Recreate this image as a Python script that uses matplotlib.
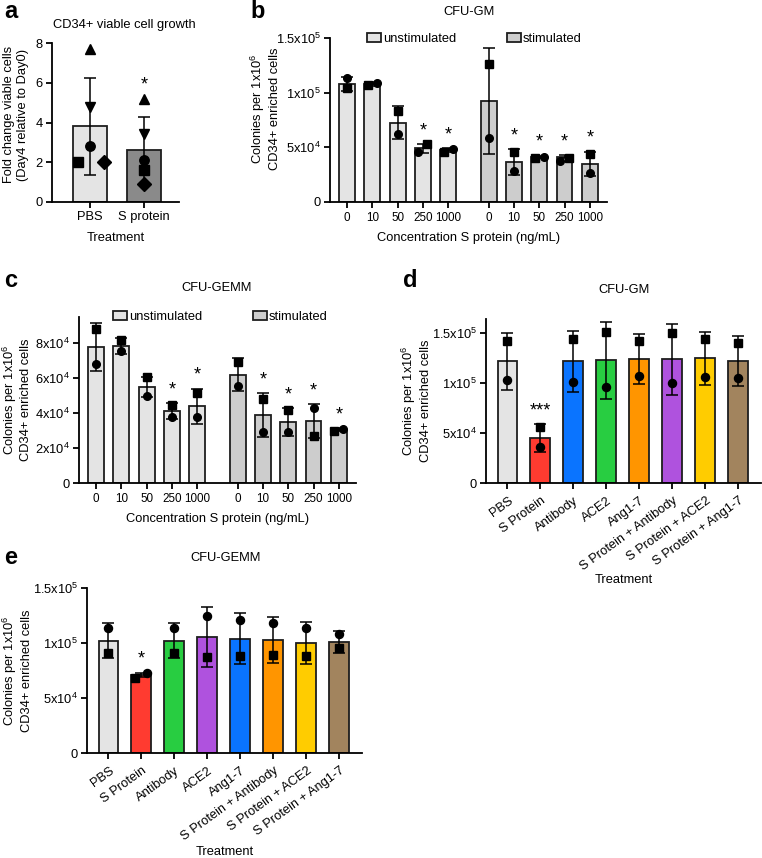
import numpy as np
import matplotlib
matplotlib.use('Agg')
import matplotlib.pyplot as plt
from matplotlib.patches import Patch
from matplotlib.transforms import ScaledTranslation

plt.rcParams['font.family'] = ['Liberation Sans', 'DejaVu Sans']
plt.rcParams['mathtext.fontset'] = 'custom'
plt.rcParams['mathtext.rm'] = 'Liberation Sans'
plt.rcParams['mathtext.default'] = 'regular'
plt.rcParams['font.size'] = 9.3

# ---- panel a: CD34+ viable cell growth
a_groups = ['PBS', 'S protein']
a_mean = [3.8, 2.6]
a_sd = [2.45, 1.7]
a_markers = ['^', 'v', 'o', 's', 'D']
a_points = [[7.7, 4.8, 2.8, 2.0, 2.0],
            [5.2, 3.4, 2.1, 1.6, 0.9]]
a_sig = ['', '*']

# ---- panel b: CFU-GM, concentration series
conc = ['0', '10', '50', '250', '1000']
b_un_mean = [1.08e5, 1.08e5, 7.25e4, 4.9e4, 4.75e4]
b_un_sd = [6.4e3, 1.5e3, 1.5e4, 4.0e3, 1.5e3]
b_un_sq = [1.04e5, 1.07e5, 8.3e4, 5.3e4, 4.6e4]
b_un_ci = [1.13e5, 1.09e5, 6.2e4, 4.6e4, 4.85e4]
b_st_mean = [9.2e4, 3.66e4, 4.15e4, 4.15e4, 3.5e4]
b_st_sd = [4.85e4, 1.17e4, 800, 1.5e3, 1.1e4]
b_st_sq = [1.26e5, 4.6e4, 4.0e4, 4.05e4, 4.4e4]
b_st_ci = [5.85e4, 2.85e4, 4.1e4, 3.75e4, 2.65e4]
b_un_sig = ['', '', '', '*', '*']
b_st_sig = ['', '*', '*', '*', '*']

# ---- panel c: CFU-GEMM, concentration series
c_un_mean = [7.77e4, 7.83e4, 5.5e4, 4.1e4, 4.4e4]
c_un_sd = [1.37e4, 4.6e3, 5.5e3, 4.6e3, 1.0e4]
c_un_sq = [8.8e4, 8.2e4, 6.05e4, 4.45e4, 5.15e4]
c_un_ci = [6.8e4, 7.55e4, 5.0e4, 3.8e4, 3.8e4]
c_st_mean = [6.2e4, 3.9e4, 3.5e4, 3.55e4, 3.05e4]
c_st_sd = [9.5e3, 1.25e4, 8.0e3, 9.5e3, 1.0e3]
c_st_sq = [6.9e4, 4.8e4, 4.2e4, 2.7e4, 3.0e4]
c_st_ci = [5.55e4, 2.9e4, 2.9e4, 4.3e4, 3.1e4]
c_un_sig = ['', '', '', '*', '*']
c_st_sig = ['', '*', '*', '*', '*']

# ---- panel d: CFU-GM, treatments
treat = ['PBS', 'S Protein', 'Antibody', 'ACE2', 'Ang1-7',
         'S Protein + Antibody', 'S Protein + ACE2', 'S Protein + Ang1-7']
d_mean = [1.22e5, 4.5e4, 1.22e5, 1.23e5, 1.24e5, 1.24e5, 1.25e5, 1.22e5]
d_sd = [2.85e4, 1.4e4, 3.05e4, 3.85e4, 2.5e4, 3.55e4, 2.65e4, 2.5e4]
d_sq = [1.42e5, 5.6e4, 1.44e5, 1.51e5, 1.42e5, 1.5e5, 1.44e5, 1.40e5]
d_ci = [1.03e5, 3.6e4, 1.01e5, 9.6e4, 1.07e5, 1.0e5, 1.06e5, 1.05e5]
d_sig = ['', '***', '', '', '', '', '', '']

# ---- panel e: CFU-GEMM, treatments
e_labels = ['PBS', 'S Protein', 'Antibody', 'ACE2', 'Ang1-7',
            'S Protein + Antibody', 'S Protein + ACE2', 'S Protein + Ang1-7']
e_mean = [1.02e5, 7.1e4, 1.02e5, 1.055e5, 1.04e5, 1.03e5, 1.0e5, 1.01e5]
e_sd = [1.6e4, 2.0e3, 1.6e4, 2.75e4, 2.3e4, 2.1e4, 1.9e4, 1.0e4]
e_ci = [1.14e5, 7.25e4, 1.14e5, 1.25e5, 1.21e5, 1.18e5, 1.14e5, 1.08e5]
e_sq = [9.1e4, 6.8e4, 9.1e4, 8.7e4, 8.8e4, 8.9e4, 8.8e4, 9.55e4]
e_sig = ['', '*', '', '', '', '', '', '']

ticks_gm = [0, 5e4, 1e5, 1.5e5]
ticklabels_gm = ['0', '5x10$^4$', '1x10$^5$', '1.5x10$^5$']
ticks_gemm = [0, 2e4, 4e4, 6e4, 8e4]
ticklabels_gemm = ['0', '2x10$^4$', '4x10$^4$', '6x10$^4$', '8x10$^4$']

# colours
GRAY = '#e4e4e4'
DARK = '#8a8a8a'
STIM = '#cdcdcd'
RED = '#ff3b30'
BLUE = '#0a74ff'
GREEN = '#28cd41'
ORANGE = '#ff9500'
PURPLE = '#af52de'
YELLOW = '#ffcc00'
BROWN = '#a2845e'
EDGE = '#1e1e1e'
d_colors = [GRAY, RED, BLUE, GREEN, ORANGE, PURPLE, YELLOW, BROWN]
e_colors = [GRAY, RED, GREEN, PURPLE, BLUE, ORANGE, YELLOW, BROWN]

W, H = 762, 858
fig = plt.figure(figsize=(W / 100, H / 100), dpi=100)


def add_ax(x0, y0, x1, y1):
    return fig.add_axes([x0 / W, 1 - y1 / H, (x1 - x0) / W, (y1 - y0) / H])


def ftext(x, y, s, **kw):
    fig.text(x / W, 1 - y / H, s, **kw)


def style(ax):
    for s in ['top', 'right']:
        ax.spines[s].set_visible(False)
    for s in ['left', 'bottom']:
        ax.spines[s].set_linewidth(1.3)
    ax.tick_params(width=1.3, length=4, labelsize=9.3, pad=2.5)


def bars(ax, x, mean, sd, colors, width):
    ax.bar(x, mean, width=width, color=colors, edgecolor=EDGE, linewidth=1.3, zorder=2)
    ax.errorbar(x, mean, yerr=sd, fmt='none', ecolor='black', elinewidth=1.1,
                capsize=4, capthick=1.1, zorder=3)


def pair(ax, x, sq, ci, top, ms=5.8):
    for xi, s, c in zip(x, sq, ci):
        xs, xc = xi, xi
        if abs(s - c) < 0.05 * top:
            if s < c:
                xs, xc = xi - 0.18, xi + 0.18
            else:
                xs, xc = xi + 0.18, xi - 0.18
        ax.plot(xs, s, 's', color='black', ms=ms, zorder=4)
        ax.plot(xc, c, 'o', color='black', ms=ms, zorder=4)


def stars(ax, x, tops, sig):
    for xi, t, s in zip(x, tops, sig):
        if s:
            ax.annotate(s, xy=(xi, t), xytext=(0, 3.5), textcoords='offset points',
                        ha='center', va='bottom', fontsize=13)


# ================= panel a
ax = add_ax(52, 43, 179, 202)
style(ax)
xa = np.arange(len(a_groups))
bars(ax, xa, a_mean, a_sd, [GRAY, DARK], 0.63)
a_shift = [[0, 0, 0, -0.22, 0.26], [0, 0, 0, 0, 0]]
for i, pts in enumerate(a_points):
    for m, v, dx in zip(a_markers, pts, a_shift[i]):
        ax.plot(xa[i] + dx, v, m, color='black', ms=6.8, zorder=4)
stars(ax, xa, [max(p) for p in a_points], a_sig)
ax.set_xlim(-0.70, 1.65)
ax.set_ylim(0, 8)
ax.set_yticks([0, 2, 4, 6, 8])
ax.set_xticks(xa)
ax.set_xticklabels(a_groups)
ax.set_ylabel('Fold change viable cells\n(Day4 relative to Day0)')
ax.yaxis.set_label_coords(-0.185, 0.55)
ftext(124, 25, 'CD34+ viable cell growth', ha='center', va='center')
ftext(116, 238, 'Treatment', ha='center', va='center')
ftext(4, 18, 'a', fontsize=17, fontweight='bold', va='baseline')


# ================= panels b, c
def conc_panel(box, un, st, ylim, yt, ytl, legend_xy, title_xy, xlabel_y, letter_xy, letter):
    ax = add_ax(*box)
    style(ax)
    xu = np.arange(5)
    xs = np.arange(5) + 5.6
    un_mean, un_sd, un_sq, un_ci, un_sig = un
    st_mean, st_sd, st_sq, st_ci, st_sig = st
    bars(ax, xu, un_mean, un_sd, GRAY, 0.63)
    bars(ax, xs, st_mean, st_sd, STIM, 0.63)
    pair(ax, xu, un_sq, un_ci, ylim, ms=5.5)
    pair(ax, xs, st_sq, st_ci, ylim, ms=5.5)
    tops_u = [max(m + s, a, b) for m, s, a, b in zip(un_mean, un_sd, un_sq, un_ci)]
    tops_s = [max(m + s, a, b) for m, s, a, b in zip(st_mean, st_sd, st_sq, st_ci)]
    stars(ax, xu, tops_u, un_sig)
    stars(ax, xs, tops_s, st_sig)
    ax.set_xlim(-0.67, 10.28)
    ax.set_ylim(0, ylim)
    ax.set_yticks(yt)
    ax.set_yticklabels(ytl)
    ax.set_xticks(np.r_[xu, xs])
    ax.set_xticklabels(conc + conc)
    ax.tick_params(axis='x', labelsize=8.4, pad=3)
    ax.set_ylabel('Colonies per 1x10$^6$\nCD34+ enriched cells')
    ax.legend(handles=[Patch(fc=GRAY, ec=EDGE, lw=1.3, label='unstimulated'),
                       Patch(fc=STIM, ec=EDGE, lw=1.3, label='stimulated')],
              ncol=2, frameon=False, loc='center left',
              bbox_to_anchor=(legend_xy[0] / W, 1 - legend_xy[1] / H),
              bbox_transform=fig.transFigure, handlelength=1.1, handleheight=0.7,
              handletextpad=0.15, columnspacing=3.9, borderpad=0, borderaxespad=0,
              fontsize=9.3)
    cx = (box[0] + box[2]) / 2
    ftext(title_xy[0], title_xy[1], title_xy[2], ha='center', va='center')
    ftext(cx, xlabel_y, 'Concentration S protein (ng/mL)', ha='center', va='center')
    ftext(letter_xy[0], letter_xy[1], letter, fontsize=17, fontweight='bold', va='baseline')
    return ax


axb = conc_panel((330, 38, 607, 202),
                 (b_un_mean, b_un_sd, b_un_sq, b_un_ci, b_un_sig),
                 (b_st_mean, b_st_sd, b_st_sq, b_st_ci, b_st_sig),
                 1.5e5, ticks_gm, ticklabels_gm, (367, 39), (469, 12, 'CFU-GM'),
                 238, (250, 18), 'b')
axb.yaxis.set_label_coords(-0.177, 0.57)

axc = conc_panel((79, 317, 356, 483),
                 (c_un_mean, c_un_sd, c_un_sq, c_un_ci, c_un_sig),
                 (c_st_mean, c_st_sd, c_st_sq, c_st_ci, c_st_sig),
                 9.5e4, ticks_gemm, ticklabels_gemm, (113, 317), (217, 288, 'CFU-GEMM'),
                 519, (4, 287), 'c')
axc.yaxis.set_label_coords(-0.168, 0.5)


# ================= panels d, e
def treat_panel(box, labels, mean, sd, sq, ci, colors, sig, ylim, title_xy, xlabel_y,
                letter_xy, letter, lab_x):
    ax = add_ax(*box)
    style(ax)
    x = np.arange(len(labels))
    bars(ax, x, mean, sd, colors, 0.6)
    pair(ax, x, sq, ci, ylim)
    tops = [max(m + s, a, b) for m, s, a, b in zip(mean, sd, sq, ci)]
    stars(ax, x, tops, sig)
    ax.set_xlim(-0.65, 7.7)
    ax.set_ylim(0, ylim)
    ax.set_yticks(ticks_gm)
    ax.set_yticklabels(ticklabels_gm)
    ax.set_xticks(x)
    ax.set_xticklabels(labels, rotation=36, ha='right', va='center',
                       rotation_mode='anchor')
    ax.tick_params(axis='x', pad=8)
    for lbl in ax.get_xticklabels():
        lbl.set_transform(lbl.get_transform() + ScaledTranslation(3 / 72, 0, fig.dpi_scale_trans))
    ax.set_ylabel('Colonies per 1x10$^6$\nCD34+ enriched cells')
    ax.yaxis.set_label_coords(lab_x, 0.5)
    cx = (box[0] + box[2]) / 2
    ftext(title_xy[0], title_xy[1], title_xy[2], ha='center', va='center')
    ftext(cx, xlabel_y, 'Treatment', ha='center', va='center')
    ftext(letter_xy[0], letter_xy[1], letter, fontsize=17, fontweight='bold', va='baseline')
    return ax


treat_panel((486, 319, 761, 483), treat, d_mean, d_sd, d_sq, d_ci, d_colors, d_sig,
            1.64e5, (624, 290, 'CFU-GM'), 580, (403, 287), 'd', -0.197)
treat_panel((87, 588, 362, 753), e_labels, e_mean, e_sd, e_sq, e_ci, e_colors, e_sig,
            1.5e5, (226, 558, 'CFU-GEMM'), 852, (4, 564), 'e', -0.198)

fig.savefig('out.png', dpi=100)
